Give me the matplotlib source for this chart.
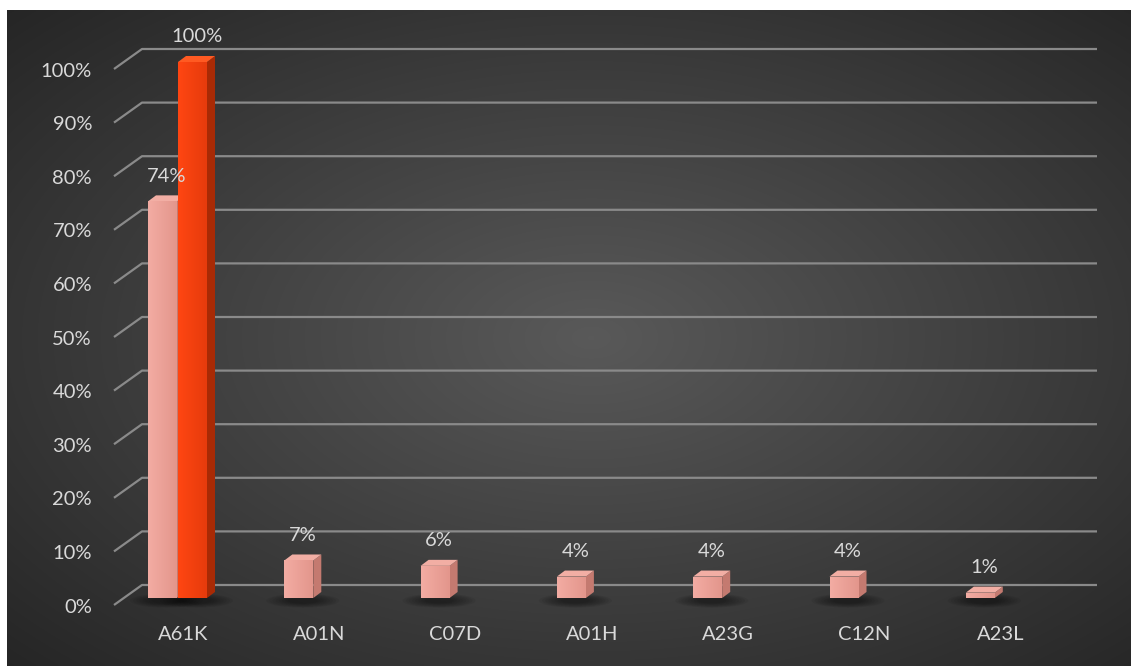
import numpy as np
import matplotlib
matplotlib.use('Agg')
import matplotlib.pyplot as plt
from matplotlib.patches import Polygon, Ellipse, Rectangle

plt.rcParams['font.family'] = ['Lato', 'DejaVu Sans']

# data
categories = ['A61K', 'A01N', 'C07D', 'A01H', 'A23G', 'C12N', 'A23L']
share = [74, 7, 6, 4, 4, 4, 1]          # pink series
share_top = [100]                        # red series, only first category
y_ticks = [0, 10, 20, 30, 40, 50, 60, 70, 80, 90, 100]

W, H = 1131, 666
fig = plt.figure(figsize=(W / 100, H / 100), dpi=100)
fig.patch.set_facecolor('white')

# background with radial gradient
bg = fig.add_axes([7 / W, 0, 1 - 7 / W, 1 - 10 / H])
bg.set_axis_off()
gx, gy = np.meshgrid(np.linspace(0, 1, 400), np.linspace(0, 1, 240))
r = np.sqrt(((gx - 0.52) / 0.75) ** 2 + ((gy - 0.5) / 0.75) ** 2)
r = np.clip(r, 0, 1)
lo, hi = np.array([0.14, 0.14, 0.14]), np.array([0.35, 0.35, 0.35])
img = hi[None, None, :] * (1 - r[..., None]) + lo[None, None, :] * r[..., None]
bg.imshow(img, aspect='auto', extent=[0, 1, 0, 1], interpolation='bilinear')

# main axes mapped so category i sits at pixel 183+136.3*i and 0% at y=598
px_cat, x0 = 136.3, 183
py_pct, y0 = 5.36, 598
ax = fig.add_axes([0, 0, 1, 1])
ax.set_xlim(-x0 / px_cat, (W - x0) / px_cat)
ax.set_ylim(-(H - y0) / py_pct, y0 / py_pct)
ax.set_axis_off()
ax.patch.set_alpha(0)

back_dy = 13 / py_pct
front_dy = -7 / py_pct
back_x = (142 - x0) / px_cat
front_x = (114 - x0) / px_cat
right_x = (1097 - x0) / px_cat
grid_c = '#8a8a8a'
txt_c = '#d9d9d9'
fs = 14.5

for t in y_ticks:
    ax.plot([front_x, back_x, right_x], [t + front_dy, t + back_dy, t + back_dy],
            color=grid_c, lw=1.6, solid_capstyle='butt', zorder=1)
    ax.text((92 - x0) / px_cat, t + front_dy - 0.4, f'{t}%', ha='right', va='center',
            color=txt_c, fontsize=fs)

bw = 29 / px_cat
dx = 8 / px_cat
dy = 6 / py_pct


def bar3d(xl, h, front, side, top, light):
    # soft shadow on the floor
    for k in np.linspace(1.0, 0.4, 8):
        ax.add_patch(Ellipse((xl + bw / 2 + dx / 2, -0.5), (bw + 44 / px_cat) * k, 2.6 * k,
                             color='black', alpha=0.06, lw=0, zorder=2))
    fr = Rectangle((xl, 0), bw, h, facecolor=front, edgecolor='none', zorder=3)
    ax.add_patch(fr)
    grad = np.linspace(0, 1, 50)[None, :, None]
    c1 = np.array(matplotlib.colors.to_rgb(light))
    c2 = np.array(matplotlib.colors.to_rgb(front))
    im = ax.imshow(c1 * (1 - grad) + c2 * grad, extent=[xl, xl + bw, 0, h],
                   aspect='auto', zorder=3.1, interpolation='bilinear')
    im.set_clip_path(fr)
    ax.add_patch(Polygon([(xl + bw, 0), (xl + bw + dx, dy), (xl + bw + dx, h + dy), (xl + bw, h)],
                         closed=True, facecolor=side, edgecolor='none', zorder=3))
    ax.add_patch(Polygon([(xl, h), (xl + dx, h + dy), (xl + bw + dx, h + dy), (xl + bw, h)],
                         closed=True, facecolor=top, edgecolor='none', zorder=3))


pink_off = -35 / px_cat
red_off = -5 / px_cat
for i, v in enumerate(share):
    xl = i + pink_off
    bar3d(xl, v, '#e3968c', '#c47a70', '#f2aea4', '#f3aca3')
    ax.text(xl + bw / 2 + dx / 2, v + 4.7, f'{v}%', ha='center', va='center',
            color=txt_c, fontsize=fs, zorder=5)

for i, v in enumerate(share_top):
    xl = i + red_off
    bar3d(xl, v, '#e63b0c', '#a82a05', '#ff5a22', '#ff4612')
    ax.text(xl + bw / 2 + dx / 2, v + 4.8, f'{v}%', ha='center', va='center',
            color=txt_c, fontsize=fs, zorder=5)

for i, c in enumerate(categories):
    ax.text(i, -6.9, c, ha='center', va='center', color=txt_c, fontsize=fs)

fig.savefig('out.png', dpi=100, facecolor='white')
